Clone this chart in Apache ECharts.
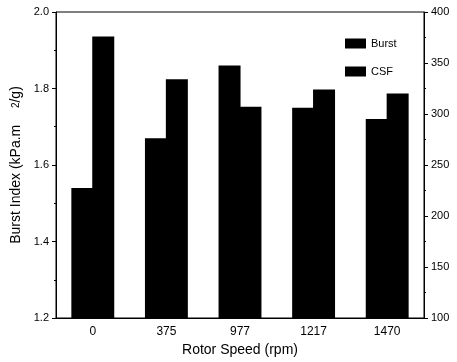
<!DOCTYPE html>
<html>
  <head>
    <meta charset="UTF-8" />
    <title>Burst Index vs Rotor Speed</title>
    <script src="https://cdn.jsdelivr.net/npm/echarts@6/dist/echarts.min.js"></script>
    <style>
      html, body { margin: 0; padding: 0; background: #fff; }
      #chart { width: 457px; height: 362px; }
    </style>
  </head>
  <body>
    <div id="chart"></div>
    <script>
      // values
      var speeds = ["0", "375", "977", "1217", "1470"];
      var burst = [1.54, 1.67, 1.86, 1.75, 1.72];
      var csf = [376, 334, 307, 324, 320];

      var font = "Liberation Sans, Arial, sans-serif";
      var chart = echarts.init(document.getElementById("chart"));

      chart.setOption({
        animation: false,
        grid: {
          left: 56, right: 33, top: 12, bottom: 44,
          outerBoundsMode: "none",
          show: true, borderColor: "#000", borderWidth: 1
        },
        legend: {
          orient: "vertical",
          left: 340, top: 33,
          itemWidth: 21, itemHeight: 10, itemGap: 17,
          icon: "rect",
          textStyle: { fontFamily: font, fontSize: 11, color: "#000" },
          data: ["Burst", "CSF"]
        },
        xAxis: {
          type: "category",
          data: speeds,
          name: "Rotor Speed (rpm)",
          nameLocation: "middle",
          nameGap: 24,
          nameTextStyle: { fontFamily: font, fontSize: 14, color: "#000" },
          axisLine: { lineStyle: { color: "#000" } },
          axisTick: { alignWithLabel: true, length: 5, lineStyle: { color: "#000" } },
          axisLabel: { fontFamily: font, fontSize: 12, color: "#000", margin: 8 }
        },
        yAxis: [
          {
            type: "value",
            min: 1.2, max: 2.0, interval: 0.2,
            name: "{a|Burst Index (kPa.m}     {s|2}{a|/g)}",
            nameLocation: "middle",
            nameGap: 32,
            nameTextStyle: {
              rich: {
                a: { fontFamily: font, fontSize: 14, color: "#000" },
                s: { fontFamily: font, fontSize: 10, color: "#000" }
              }
            },
            splitLine: { show: false },
            axisLine: { show: true, lineStyle: { color: "#000" } },
            axisTick: { show: true, length: 4, lineStyle: { color: "#000" } },
            minorTick: { show: true, splitNumber: 2, length: 2, lineStyle: { color: "#000" } },
            axisLabel: {
              fontFamily: font, fontSize: 11, color: "#000", margin: 7,
              formatter: function (v) { return v.toFixed(1); }
            }
          },
          {
            type: "value",
            min: 100, max: 400, interval: 50,
            splitLine: { show: false },
            axisLine: { show: true, lineStyle: { color: "#000" } },
            axisTick: { show: true, length: 4, lineStyle: { color: "#000" } },
            minorTick: { show: true, splitNumber: 2, length: 2, lineStyle: { color: "#000" } },
            axisLabel: { fontFamily: font, fontSize: 11, color: "#000", margin: 7 }
          }
        ],
        series: [
          {
            name: "Burst",
            type: "bar",
            yAxisIndex: 0,
            data: burst,
            barWidth: 22,
            barGap: "-5%",
            itemStyle: { color: "#000" }
          },
          {
            name: "CSF",
            type: "bar",
            yAxisIndex: 1,
            data: csf,
            barWidth: 22,
            barGap: "-5%",
            itemStyle: { color: "#000" }
          }
        ]
      });
    </script>
  </body>
</html>
